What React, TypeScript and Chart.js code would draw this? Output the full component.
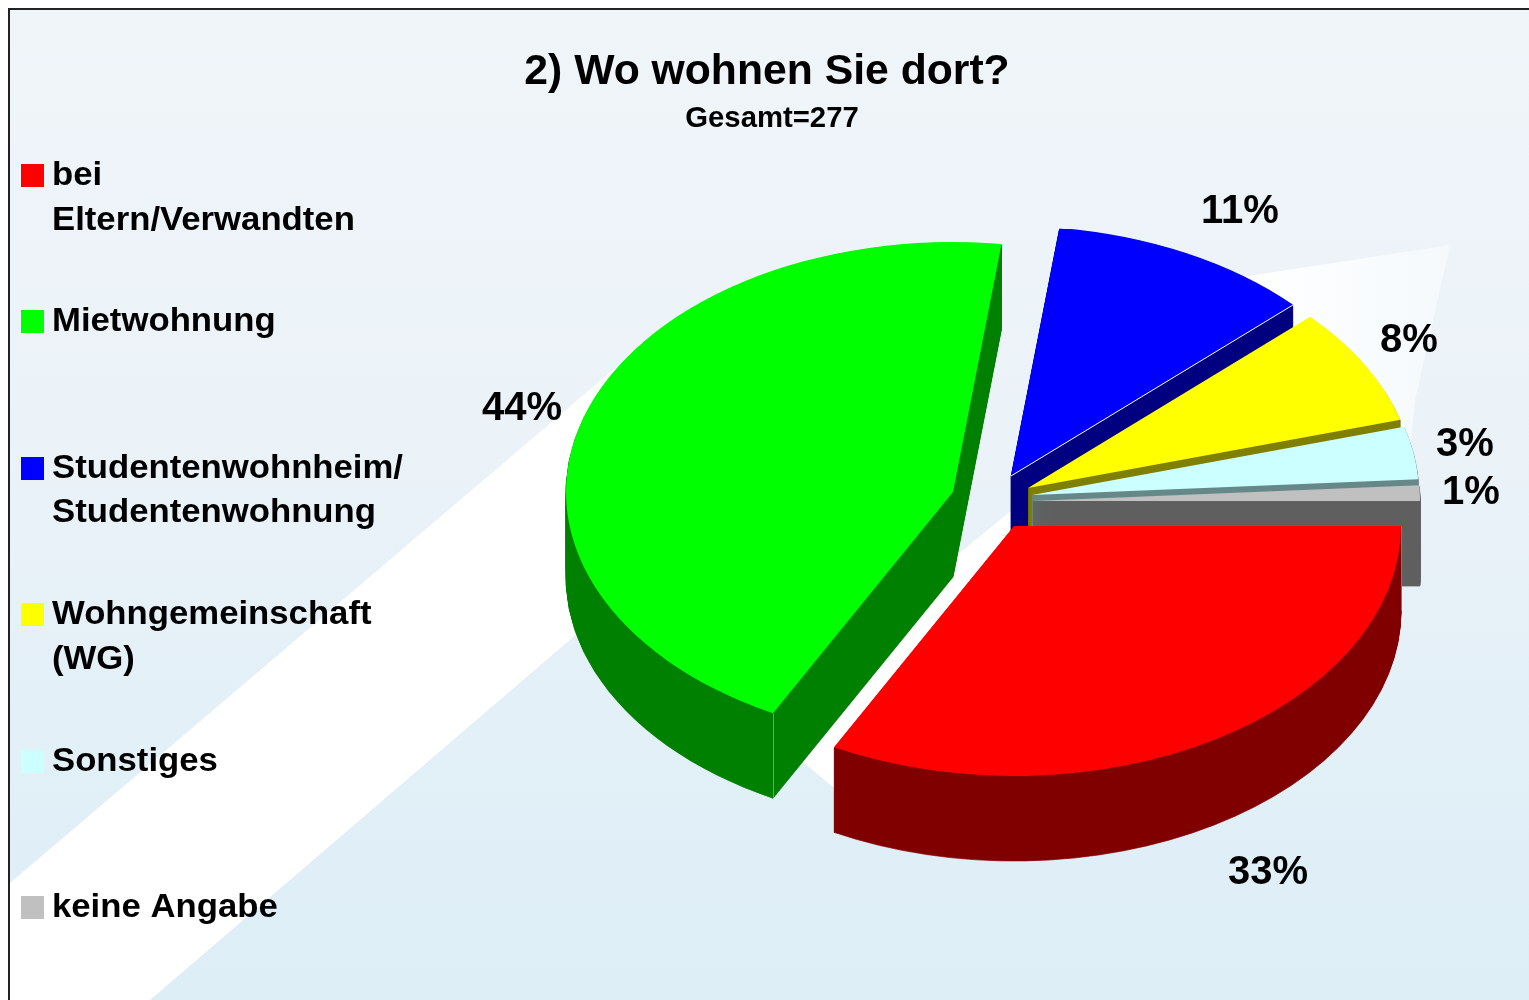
import React, { useEffect, useRef } from "react";
import { Chart, registerables } from "chart.js";

Chart.register(...registerables);

// ---- data ----
const categoryLines = [
  ["bei", "Eltern/Verwandten"],
  ["Mietwohnung"],
  ["Studentenwohnheim/", "Studentenwohnung"],
  ["Wohngemeinschaft", "(WG)"],
  ["Sonstiges"],
  ["keine Angabe"],
];
const shares = [32.7, 44.3, 11, 7.6, 3.4, 1];
const titleText = "2) Wo wohnen Sie dort?";
const subtitleText = "Gesamt=277";

// ---- styles ----
const topColors = ["#ff0000", "#00ff00", "#0000ff", "#ffff00", "#ccffff", "#c0c0c0"];
const wallColors = ["#800000", "#008000", "#000080", "#808000", "#668888", "#606060"];
const FONT = '"Liberation Sans", Arial, sans-serif';

// ---- layout, page pixels ----
const RX = 387;
const RY = 250;
const DEPTH = 85;
const apexes = [
  [1014, 526],
  [953, 492],
  [1011, 476],
  [1028, 488],
  [1032, 495],
  [1033, 501],
];
const drawOrder = [1, 2, 3, 4, 5, 0];
const labelCenters = [
  [1268, 873],
  [522, 409],
  [1240, 212],
  [1409, 341],
  [1465, 445],
  [1471, 493],
];
const legendTop = 164;
const legendStep = 146.4;

function paintBackground(ctx: CanvasRenderingContext2D) {
  ctx.fillStyle = "#ffffff";
  ctx.fillRect(0, 0, 1529, 1000);
  const g = ctx.createLinearGradient(0, 8, 0, 1000);
  g.addColorStop(0, "#eff5f9");
  g.addColorStop(0.4, "#ecf3f8");
  g.addColorStop(0.7, "#e3f0f7");
  g.addColorStop(1, "#ddeef7");
  ctx.fillStyle = g;
  ctx.fillRect(8, 8, 1521, 992);

  const w = ctx.createLinearGradient(1250, 0, 1450, 0);
  w.addColorStop(0, "#ffffff");
  w.addColorStop(1, "#f4f9fc");
  ctx.fillStyle = w;
  ctx.beginPath();
  const band = [
    [10, 883],
    [640, 347],
    [957, 555],
    [1012, 510],
    [1100, 300],
    [1255, 275],
    [1450, 245],
    [1415, 400],
    [1395, 600],
    [1100, 800],
    [833, 787],
    [803, 762],
    [700, 680],
    [600, 614],
    [150, 1000],
    [10, 1000],
  ];
  band.forEach(([x, y], i) => (i ? ctx.lineTo(x, y) : ctx.moveTo(x, y)));
  ctx.closePath();
  ctx.fill();

  ctx.fillStyle = "#222222";
  ctx.fillRect(8, 8, 1521, 2);
  ctx.fillRect(8, 8, 2, 992);
}

const scenePlugin = {
  id: "scene",
  afterLayout(chart: any) {
    for (const box of chart.boxes) {
      const text = box.options && box.options.text;
      if (text === subtitleText) {
        box.left += 15;
      } else if (text === titleText) {
        box.left += 5;
      }
    }
  },
  beforeDraw(chart: any) {
    paintBackground(chart.ctx);
  },
  beforeDatasetsDraw(chart: any) {
    const ctx = chart.ctx;
    const arcs = chart.getDatasetMeta(0).data;
    ctx.save();

    const stamp = (arc: any, i: number, dy: number, color: string, edge: number) => {
      const original = arc.options;
      arc.options = Object.create(original, {
        backgroundColor: { value: color },
        borderColor: { value: color },
        borderWidth: { value: edge },
      });
      ctx.save();
      ctx.translate(apexes[i][0], apexes[i][1] + dy);
      ctx.scale(RX / arc.outerRadius, RY / arc.outerRadius);
      ctx.translate(-arc.x, -arc.y);
      arc.draw(ctx);
      ctx.restore();
      arc.options = original;
    };

    for (const i of drawOrder) {
      const arc = arcs[i];
      const [ax, ay] = apexes[i];
      for (let d = DEPTH; d >= 1; d--) stamp(arc, i, d, wallColors[i], 1);
      stamp(arc, i, 0, topColors[i], 0);
      if (i === 2) {
        ctx.strokeStyle = "#ffffff";
        ctx.lineWidth = 1;
        ctx.beginPath();
        ctx.moveTo(ax, ay);
        ctx.lineTo(ax + RX * Math.cos(arc.endAngle), ay + RY * Math.sin(arc.endAngle));
        ctx.stroke();
      }
      if (i < 2) {
        const ex = Math.round(ax + RX * Math.cos(arc.startAngle)) + 0.5;
        const ey = ay + RY * Math.sin(arc.startAngle);
        ctx.strokeStyle = i === 0 ? "#b06060" : "#60a860";
        ctx.lineWidth = 1;
        ctx.beginPath();
        ctx.moveTo(ex, ey);
        ctx.lineTo(ex, ey + DEPTH);
        ctx.stroke();
      }
    }

    // slice percentages
    ctx.fillStyle = "#000000";
    ctx.font = `bold 40px ${FONT}`;
    ctx.textAlign = "center";
    ctx.textBaseline = "middle";
    shares.forEach((v, i) => {
      ctx.fillText(`${Math.round(v)}%`, labelCenters[i][0], labelCenters[i][1]);
    });

    // legend
    ctx.textAlign = "left";
    ctx.textBaseline = "alphabetic";
    ctx.font = `bold 33px ${FONT}`;
    categoryLines.forEach((lines, i) => {
      const top = legendTop + legendStep * i;
      ctx.fillStyle = topColors[i];
      ctx.fillRect(21, Math.round(top), 23, 23);
      ctx.fillStyle = "#000000";
      lines.forEach((line, j) => {
        ctx.save();
        ctx.translate(52, top + 21 + j * 44.5);
        ctx.scale(1.052, 1);
        ctx.fillText(line, 0, 0);
        ctx.restore();
      });
    });
    ctx.restore();
    return false;
  },
};

export default function App() {
  const ref = useRef<HTMLCanvasElement>(null);
  useEffect(() => {
    document.body.style.margin = "0";
    const chart = new Chart(ref.current as HTMLCanvasElement, {
      type: "pie",
      data: {
        labels: categoryLines.map((l) => l.join(" ")),
        datasets: [{ data: shares, backgroundColor: topColors, borderWidth: 0 }],
      },
      options: {
        responsive: false,
        animation: false,
        rotation: 90,
        plugins: {
          legend: { display: false },
          tooltip: { enabled: false },
          title: {
            display: true,
            text: titleText,
            color: "#000000",
            font: { family: FONT, size: 42.7, weight: "bold" },
            padding: { top: 47, bottom: 0 },
          },
          subtitle: {
            display: true,
            text: subtitleText,
            color: "#000000",
            font: { family: FONT, size: 29.3, weight: "bold" },
            padding: { top: 3.4, bottom: 0 },
          },
        },
      },
      plugins: [scenePlugin],
    } as any);
    return () => chart.destroy();
  }, []);
  return (
    <div style={{ width: 1529, height: 1000 }}>
      <canvas ref={ref} width={1529} height={1000} style={{ display: "block" }} />
    </div>
  );
}
